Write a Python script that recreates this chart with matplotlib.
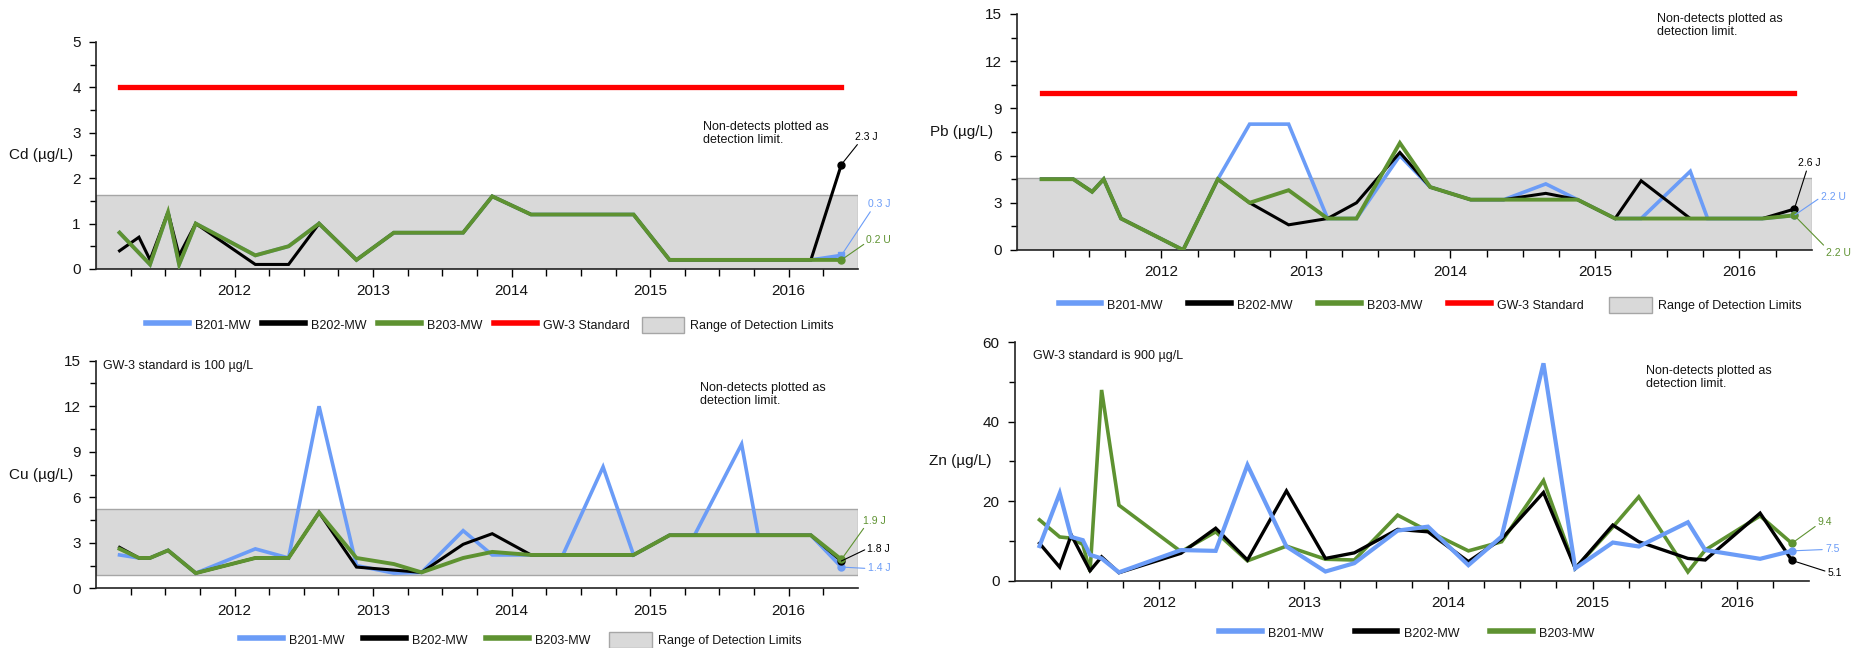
import numpy as np
import matplotlib
matplotlib.use('Agg')
import matplotlib.pyplot as plt
from matplotlib.lines import Line2D
from matplotlib.patches import Patch

plt.rcParams['font.family'] = ['Liberation Sans', 'DejaVu Sans']

nan = np.nan

# sampling dates, decimal years
dates = np.array([2011.17, 2011.31, 2011.39, 2011.47, 2011.52, 2011.60, 2011.72,
                  2012.15, 2012.39, 2012.61, 2012.88, 2013.15, 2013.35, 2013.65,
                  2013.86, 2014.14, 2014.37, 2014.66, 2014.88, 2015.14, 2015.32,
                  2015.66, 2015.78, 2016.16, 2016.38])

# Cd (ug/L)
cd_b201 = [0.8, nan, 0.1, nan, 1.25, 0.1, 1.0, 0.3, 0.5, 1.0, 0.2, 0.8, 0.8, 0.8,
           1.6, 1.2, 1.2, 1.2, 1.2, 0.2, 0.2, 0.2, 0.2, 0.2, 0.3]
cd_b202 = [0.4, 0.7, 0.2, nan, 1.25, 0.3, 1.0, 0.1, 0.1, 1.0, 0.2, 0.8, 0.8, 0.8,
           1.6, 1.2, 1.2, 1.2, 1.2, 0.2, 0.2, 0.2, 0.2, 0.2, 2.3]
cd_b203 = [0.8, nan, 0.1, nan, 1.25, 0.1, 1.0, 0.3, 0.5, 1.0, 0.2, 0.8, 0.8, 0.8,
           1.6, 1.2, 1.2, 1.2, 1.2, 0.2, 0.2, 0.2, 0.2, 0.2, 0.2]
cd_standard = 4.0
cd_detect = (0.0, 1.63)

# Pb (ug/L)
pb_b201 = [4.5, nan, 4.5, nan, 3.7, 4.5, 2.0, 0.0, 4.5, 8.0, 8.0, 2.0, 2.0, 6.0,
           4.0, 3.2, 3.2, 4.2, 3.2, 2.0, 2.0, 5.0, 2.0, 2.0, 2.2]
pb_b202 = [4.5, nan, 4.5, nan, 3.7, 4.5, 2.0, 0.0, 4.5, 3.0, 1.6, 2.0, 3.0, 6.2,
           4.0, 3.2, 3.2, 3.6, 3.2, 2.0, 4.4, 2.0, 2.0, 2.0, 2.6]
pb_b203 = [4.5, nan, 4.5, nan, 3.7, 4.5, 2.0, 0.0, 4.5, 3.0, 3.8, 2.0, 2.0, 6.8,
           4.0, 3.2, 3.2, 3.2, 3.2, 2.0, 2.0, 2.0, 2.0, 2.0, 2.2]
pb_standard = 10.0
pb_detect = (0.0, 4.6)

# Cu (ug/L)
cu_b201 = [2.2, 2.0, 2.0, nan, 2.5, 1.9, 1.0, 2.6, 2.0, 12.0, 1.5, 1.0, 1.05, 3.8,
           2.2, 2.2, 2.2, 8.0, 2.2, 3.5, 3.5, 9.5, 3.5, 3.5, 1.4]
cu_b202 = [2.7, 2.0, 2.0, nan, 2.5, 1.9, 1.0, 2.0, 2.0, 5.0, 1.4, 1.2, 1.05, 2.9,
           3.6, 2.2, 2.2, 2.2, 2.2, 3.5, 3.5, 3.5, 3.5, 3.5, 1.8]
cu_b203 = [2.6, 2.0, 2.0, nan, 2.5, 1.9, 1.0, 2.0, 2.0, 5.0, 2.0, 1.6, 1.05, 2.0,
           2.4, 2.2, 2.2, 2.2, 2.2, 3.5, 3.5, 3.5, 3.5, 3.5, 1.9]
cu_detect = (0.9, 5.2)

# Zn (ug/L)
zn_b201 = [8.7, 22.0, 11.0, 10.2, 6.5, 5.6, 2.1, 7.7, 7.5, 29.1, 8.6, 2.3, 4.4, 12.6,
           13.6, 3.9, 11.1, 54.7, 3.1, 9.6, 8.6, 14.7, 7.7, 5.5, 7.5]
zn_b202 = [9.4, 3.4, 11.5, nan, 2.5, 6.0, 2.0, 6.9, 13.2, 5.2, 22.6, 5.6, 7.0, 12.9,
           12.3, 4.8, 10.5, 22.2, 3.1, 14.0, 9.8, 5.6, 5.2, 17.0, 5.1]
zn_b203 = [15.3, 11.0, 10.7, 9.1, 2.3, 48.0, 19.0, 7.3, 12.3, 5.0, 8.7, 5.4, 5.2, 16.5,
           12.5, 7.5, 9.8, 25.2, 3.1, 13.5, 21.1, 2.2, 7.7, 16.3, 9.4]

years = [2012, 2013, 2014, 2015, 2016]

BLUE = '#6b9cf7'
BLACK = '#000000'
GREEN = '#5e9231'
RED = '#ff0000'
BAND = '#d9d9d9'
BAND_EDGE = '#a6a6a6'
TEXT = '#141414'
NOTE = 'Non-detects plotted as\ndetection limit.'


def setup_axes(ax, ymax, ystep, label):
    ax.set_xlim(2011.0, 2016.5)
    ax.set_ylim(0, ymax)
    for s in ['top', 'right']:
        ax.spines[s].set_visible(False)
    for s in ['left', 'bottom']:
        ax.spines[s].set_linewidth(1.2)
        ax.spines[s].set_color('#222222')
    ax.set_xticks(years)
    ax.set_xticklabels([str(y) for y in years])
    quarters = [y + q for y in range(2011, 2017) for q in (0.25, 0.5, 0.75)]
    ax.set_xticks([q for q in quarters if q < 2016.5], minor=True)
    ax.set_yticks(np.arange(0, ymax + 0.01, ystep))
    ax.set_yticks(np.arange(ystep / 2, ymax, ystep), minor=True)
    ax.tick_params(axis='x', which='major', length=6, width=1, pad=5, labelsize=11,
                   labelcolor=TEXT)
    ax.tick_params(axis='x', which='minor', length=5, width=1)
    ax.tick_params(axis='y', which='major', length=5, width=1, pad=6, labelsize=11,
                   labelcolor=TEXT)
    ax.tick_params(axis='y', which='minor', length=4, width=1)
    ax.text(-0.03, 0.5, label, transform=ax.transAxes, ha='right', va='center',
            fontsize=11, color=TEXT)


def plot_series(ax, vals, color, lw, z):
    v = np.array(vals, dtype=float)
    m = ~np.isnan(v)
    ax.plot(dates[m], v[m], color=color, lw=lw, zorder=z, solid_joinstyle='miter')


def end_label(ax, vals, text, color, offset, relpos, marker='o'):
    x, y = dates[-1], vals[-1]
    ax.plot(x, y, marker, color=color, ms=5, zorder=6)
    ax.annotate(text, xy=(x, y), xytext=offset, textcoords='offset points',
                ha='center', va='center', fontsize=7.5, color=color,
                arrowprops=dict(arrowstyle='-', color=color, lw=0.8,
                                shrinkA=0, shrinkB=0, relpos=relpos),
                annotation_clip=False, zorder=7)


def band(ax, lim):
    ax.axhspan(lim[0], lim[1], facecolor=BAND, edgecolor=BAND_EDGE, lw=1, zorder=0.5)


def standard(ax, value):
    ax.plot([dates[0], dates[-1]], [value, value], color=RED, lw=3.8, zorder=2)


def add_legend(fig, anchor, with_std, with_band, spacing):
    handles = [Line2D([], [], color=BLUE, lw=4),
               Line2D([], [], color=BLACK, lw=4),
               Line2D([], [], color=GREEN, lw=4)]
    labels = ['B201-MW', 'B202-MW', 'B203-MW']
    if with_std:
        handles.append(Line2D([], [], color=RED, lw=4))
        labels.append('GW-3 Standard')
    if with_band:
        handles.append(Patch(facecolor=BAND, edgecolor=BAND_EDGE))
        labels.append('Range of Detection Limits')
    leg = fig.legend(handles, labels, loc='center', bbox_to_anchor=anchor,
                     ncol=len(labels), frameon=False, fontsize=9, handlelength=3.4,
                     handletextpad=0.5, columnspacing=spacing, handleheight=1.6)
    for t in leg.get_texts():
        t.set_color(TEXT)


fig = plt.figure(figsize=(18.64, 6.48), dpi=100)

ax_cd = fig.add_axes([0.0515, 0.5849, 0.4088, 0.3503])
ax_pb = fig.add_axes([0.5456, 0.6142, 0.4263, 0.3642])
ax_cu = fig.add_axes([0.0515, 0.0921, 0.4088, 0.3512])
ax_zn = fig.add_axes([0.5445, 0.1039, 0.4261, 0.3679])

# Cd
setup_axes(ax_cd, 5, 1, 'Cd (µg/L)')
band(ax_cd, cd_detect)
standard(ax_cd, cd_standard)
plot_series(ax_cd, cd_b201, BLUE, 2.6, 3)
plot_series(ax_cd, cd_b202, BLACK, 2.2, 4)
plot_series(ax_cd, cd_b203, GREEN, 2.8, 5)
end_label(ax_cd, cd_b202, '2.3 J', BLACK, (18, 20), (0.2, 0))
end_label(ax_cd, cd_b201, '0.3 J', BLUE, (27, 37), (0.2, 0), marker='s')
end_label(ax_cd, cd_b203, '0.2 U', GREEN, (27, 14), (0, 0.3))
ax_cd.text(0.796, 0.652, NOTE, transform=ax_cd.transAxes, ha='left', va='top',
           fontsize=9, linespacing=1.1, color=TEXT)

# Pb
setup_axes(ax_pb, 15, 3, 'Pb (µg/L)')
band(ax_pb, pb_detect)
standard(ax_pb, pb_standard)
plot_series(ax_pb, pb_b201, BLUE, 2.6, 3)
plot_series(ax_pb, pb_b202, BLACK, 2.2, 4)
plot_series(ax_pb, pb_b203, GREEN, 2.8, 5)
end_label(ax_pb, pb_b202, '2.6 J', BLACK, (11, 33), (0.4, 0))
end_label(ax_pb, pb_b201, '2.2 U', BLUE, (28, 13), (0, 0.5))
end_label(ax_pb, pb_b203, '2.2 U', GREEN, (32, -27), (0, 1))
ax_pb.text(0.805, 1.004, NOTE, transform=ax_pb.transAxes, ha='left', va='top',
           fontsize=9, linespacing=1.1, color=TEXT)

# Cu
setup_axes(ax_cu, 15, 3, 'Cu (µg/L)')
band(ax_cu, cu_detect)
plot_series(ax_cu, cu_b201, BLUE, 2.6, 3)
plot_series(ax_cu, cu_b202, BLACK, 2.2, 4)
plot_series(ax_cu, cu_b203, GREEN, 2.8, 5)
end_label(ax_cu, cu_b201, '1.4 J', BLUE, (27, -1), (0, 0.5))
end_label(ax_cu, cu_b202, '1.8 J', BLACK, (27, 9), (0, 0.5))
end_label(ax_cu, cu_b203, '1.9 J', GREEN, (24, 28), (0.1, 0))
ax_cu.text(0.0096, 1.003, 'GW-3 standard is 100 µg/L', transform=ax_cu.transAxes,
           ha='left', va='top', fontsize=9, color=TEXT)
ax_cu.text(0.793, 0.906, NOTE, transform=ax_cu.transAxes, ha='left', va='top',
           fontsize=9, linespacing=1.1, color=TEXT)

# Zn
setup_axes(ax_zn, 60, 20, 'Zn (µg/L)')
plot_series(ax_zn, zn_b203, GREEN, 2.6, 3)
plot_series(ax_zn, zn_b202, BLACK, 2.4, 4)
plot_series(ax_zn, zn_b201, BLUE, 3.0, 5)
end_label(ax_zn, zn_b203, '9.4', GREEN, (24, 15), (0, 0.3))
end_label(ax_zn, zn_b201, '7.5', BLUE, (29, 1), (0, 0.5))
end_label(ax_zn, zn_b202, '5.1', BLACK, (31, -9), (0, 0.6))
ax_zn.text(0.023, 0.968, 'GW-3 standard is 900 µg/L', transform=ax_zn.transAxes,
           ha='left', va='top', fontsize=9, color=TEXT)
ax_zn.text(0.795, 0.905, NOTE, transform=ax_zn.transAxes, ha='left', va='top',
           fontsize=9, linespacing=1.1, color=TEXT)

add_legend(fig, (0.2629, 0.4985), True, True, 0.95)
add_legend(fig, (0.7672, 0.5293), True, True, 2.05)
add_legend(fig, (0.2795, 0.0123), False, True, 1.5)
add_legend(fig, (0.7548, 0.0231), False, False, 2.5)

fig.savefig('out.png', dpi=100)
plt.close(fig)
